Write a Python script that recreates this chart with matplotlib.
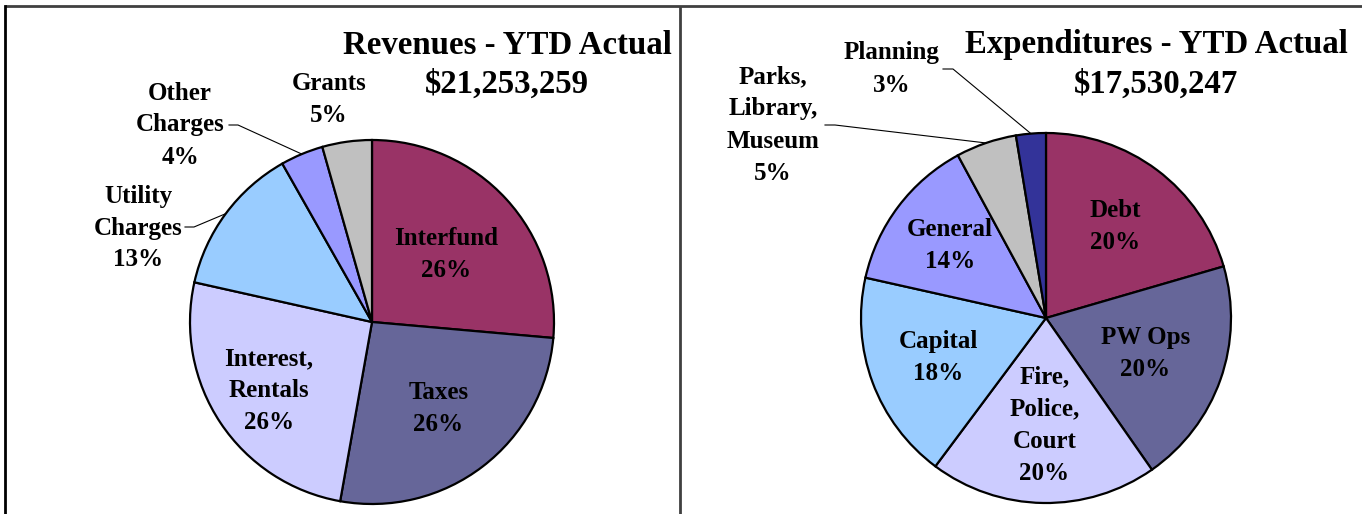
import numpy as np
import matplotlib.pyplot as plt
from matplotlib.lines import Line2D

plt.rcParams["font.family"] = ["Liberation Serif", "DejaVu Serif"]
plt.rcParams["font.weight"] = "bold"

# Revenues
rev_labels = ["Interfund", "Taxes", "Interest,\nRentals", "Utility\nCharges", "Other\nCharges", "Grants"]
rev_values = [26.4, 26.4, 25.7, 13.3, 3.8, 4.4]
rev_pct = ["26%", "26%", "26%", "13%", "4%", "5%"]
rev_total = "$21,253,259"

# Expenditures
exp_labels = ["Debt", "PW Ops", "Fire,\nPolice,\nCourt", "Capital", "General", "Parks,\nLibrary,\nMuseum", "Planning"]
exp_values = [20.5, 19.8, 19.9, 18.3, 13.6, 5.3, 2.6]
exp_pct = ["20%", "20%", "20%", "18%", "14%", "5%", "3%"]
exp_total = "$17,530,247"

rev_colors = ["#993366", "#666699", "#CCCCFF", "#99CCFF", "#9999FF", "#C0C0C0"]
exp_colors = ["#993366", "#666699", "#CCCCFF", "#99CCFF", "#9999FF", "#C0C0C0", "#333399"]

W, H = 1362, 514
fig = plt.figure(figsize=(W / 100, H / 100), dpi=100)
ax = fig.add_axes([0, 0, 1, 1])

# panel frames
frame = dict(color="#404040", lw=2, solid_capstyle="butt")
ax.add_line(Line2D([5, W], [H - 6, H - 6], **frame))
ax.add_line(Line2D([5, 5], [0, H - 6], color="black", lw=2))
ax.add_line(Line2D([680, 680], [0, H - 6], **frame))

TXT = dict(fontsize=18, fontweight="bold", ha="center", va="center", linespacing=1.5)
TITLE = dict(fontsize=23.7, fontweight="bold", ha="center", va="center")


def draw_pie(values, colors, center, radius):
    wedges, _ = ax.pie(values, colors=colors, center=center, radius=radius,
                       startangle=90, counterclock=False, frame=True,
                       wedgeprops=dict(edgecolor="black", linewidth=1.6))
    return wedges


def mid_point(w, center, dist):
    a = np.deg2rad((w.theta1 + w.theta2) / 2)
    return center[0] + dist * np.cos(a), center[1] + dist * np.sin(a)


# ---- left pie
c1, r1 = (372, H - 322), 182
wl = draw_pie(rev_values, rev_colors, c1, r1)
inside_dist = [0.55, 0.6, 0.68]
for i in range(3):
    x, y = mid_point(wl[i], c1, inside_dist[i] * r1)
    ax.text(x, y, rev_labels[i] + "\n" + rev_pct[i], **TXT)

# outside labels with leader lines
ax.text(329, H - 99, rev_labels[5] + "\n" + rev_pct[5], **TXT)
ax.text(180, H - 125, rev_labels[4] + "\n" + rev_pct[4], **TXT)
ex, ey = mid_point(wl[4], c1, r1)
ax.plot([229, 238, ex], [H - 125, H - 125, ey], color="black", lw=0.8)
ax.text(138, H - 228, rev_labels[3] + "\n" + rev_pct[3], **TXT)
ex, ey = mid_point(wl[3], c1, r1)
ax.plot([185, 194, ex], [H - 227, H - 227, ey], color="black", lw=0.8)

ax.text(507, H - 45, "Revenues - YTD Actual", **TITLE)
ax.text(507, H - 84, rev_total, **TITLE)

# ---- right pie
c2, r2 = (1046, H - 318), 185
wr = draw_pie(exp_values, exp_colors, c2, r2)
inside_dist = [0.62, 0.57, 0.58, 0.62, 0.65]
for i in range(5):
    x, y = mid_point(wr[i], c2, inside_dist[i] * r2)
    ax.text(x, y, exp_labels[i] + "\n" + exp_pct[i], **TXT)

ax.text(892, H - 69, exp_labels[6] + "\n" + exp_pct[6], **TXT)
ex, ey = mid_point(wr[6], c2, r2)
ax.plot([943, 953, ex], [H - 69, H - 69, ey], color="black", lw=0.8)
ax.text(773, H - 125, exp_labels[5] + "\n" + exp_pct[5], **TXT)
ex, ey = mid_point(wr[5], c2, r2)
ax.plot([825, 835, ex], [H - 125, H - 125, ey], color="black", lw=0.8)

ax.text(1156, H - 45, "Expenditures - YTD Actual", **TITLE)
ax.text(1156, H - 84, exp_total, **TITLE)

ax.set_xlim(0, W)
ax.set_ylim(0, H)
ax.set_aspect("auto")
ax.axis("off")

fig.savefig("out.png", dpi=100)
